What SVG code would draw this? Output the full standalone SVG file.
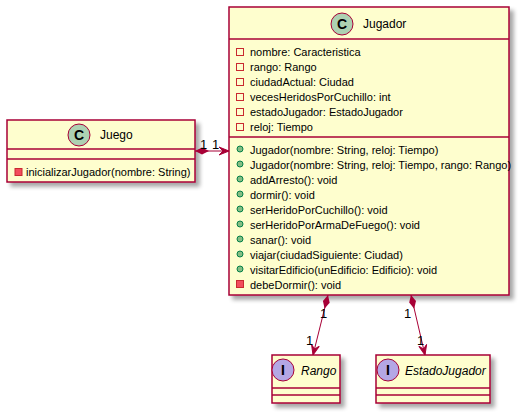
<svg xmlns="http://www.w3.org/2000/svg" width="522" height="416" viewBox="0 0 522 416">
<defs>
<filter id="sh" x="-10%" y="-10%" width="130%" height="130%">
<feGaussianBlur in="SourceAlpha" stdDeviation="2"/>
<feOffset dx="4" dy="4" result="b"/>
<feComponentTransfer><feFuncA type="linear" slope="0.35"/></feComponentTransfer>
<feMerge><feMergeNode/><feMergeNode in="SourceGraphic"/></feMerge>
</filter>
<marker id="arr" viewBox="0 0 10 10" refX="10" refY="5" markerWidth="10" markerHeight="10" markerUnits="userSpaceOnUse" orient="auto">
<path d="M0,1 L10,5 L0,9 L4,5 Z" fill="#A80036" stroke="#A80036" stroke-width="1"/>
</marker>
<marker id="dia" viewBox="0 0 14 8" refX="0" refY="4" markerWidth="14" markerHeight="8" markerUnits="userSpaceOnUse" orient="auto">
<path d="M0,4 L7,0.5 L14,4 L7,7.5 Z" fill="#A80036"/>
</marker>
</defs>
<style>
.box{fill:#FEFECE;stroke:#A80036;stroke-width:1.5}
.sep{stroke:#A80036;stroke-width:1.5}
.t{font-family:"Liberation Sans",Arial,sans-serif;font-size:11px;fill:#000}
.n{font-family:"Liberation Sans",Arial,sans-serif;font-size:12px;fill:#000}
.ni{font-family:"Liberation Sans",Arial,sans-serif;font-size:12px;font-style:italic;fill:#000}
.cc{fill:#ADD1B2;stroke:#A80036;stroke-width:1}
.ci{fill:#B4A7E5;stroke:#A80036;stroke-width:1}
.cl{font-family:"Liberation Sans",Arial,sans-serif;font-size:14px;font-weight:bold;fill:#000;text-anchor:middle}
.priv{fill:none;stroke:#C82930;stroke-width:1}
.privm{fill:#F24D5C;stroke:#C82930;stroke-width:1}
.pub{fill:#84BE84;stroke:#038048;stroke-width:1}
.ln{stroke:#A80036;stroke-width:1;fill:none}
.lb{font-family:"Liberation Sans",Arial,sans-serif;font-size:13px;fill:#000}
</style>
<g id="Juego">
<rect class="box" x="7" y="120" width="188" height="62" filter="url(#sh)"/>
<circle class="cc" cx="79" cy="135" r="11"/>
<text class="cl" x="79" y="140">C</text>
<text class="n" x="100" y="139">Juego</text>
<line class="sep" x1="7" y1="149" x2="195" y2="149"/>
<line class="sep" x1="7" y1="159" x2="195" y2="159"/>
<rect class="privm" x="15" y="168.5" width="7" height="7"/>
<text class="t" x="26" y="176">inicializarJugador(nombre: String)</text>
</g>
<g id="Jugador">
<rect class="box" x="229" y="7" width="280" height="288" filter="url(#sh)"/>
<circle class="cc" cx="342" cy="24" r="11"/>
<text class="cl" x="342" y="29">C</text>
<text class="n" x="363" y="28">Jugador</text>
<line class="sep" x1="229" y1="39" x2="509" y2="39"/>
<rect class="priv" x="236.5" y="48.5" width="7" height="7"/>
<text class="t" x="250" y="56">nombre: Caracteristica</text>
<rect class="priv" x="236.5" y="63.5" width="7" height="7"/>
<text class="t" x="250" y="71">rango: Rango</text>
<rect class="priv" x="236.5" y="78.5" width="7" height="7"/>
<text class="t" x="250" y="86">ciudadActual: Ciudad</text>
<rect class="priv" x="236.5" y="93.5" width="7" height="7"/>
<text class="t" x="250" y="101">vecesHeridosPorCuchillo: int</text>
<rect class="priv" x="236.5" y="108.5" width="7" height="7"/>
<text class="t" x="250" y="116">estadoJugador: EstadoJugador</text>
<rect class="priv" x="236.5" y="123.5" width="7" height="7"/>
<text class="t" x="250" y="131">reloj: Tiempo</text>
<line class="sep" x1="229" y1="137" x2="509" y2="137"/>
<circle class="pub" cx="240" cy="149" r="3"/>
<text class="t" x="250" y="154">Jugador(nombre: String, reloj: Tiempo)</text>
<circle class="pub" cx="240" cy="164" r="3"/>
<text class="t" x="250" y="169">Jugador(nombre: String, reloj: Tiempo, rango: Rango)</text>
<circle class="pub" cx="240" cy="179" r="3"/>
<text class="t" x="250" y="184">addArresto(): void</text>
<circle class="pub" cx="240" cy="194" r="3"/>
<text class="t" x="250" y="199">dormir(): void</text>
<circle class="pub" cx="240" cy="209" r="3"/>
<text class="t" x="250" y="214">serHeridoPorCuchillo(): void</text>
<circle class="pub" cx="240" cy="224" r="3"/>
<text class="t" x="250" y="229">serHeridoPorArmaDeFuego(): void</text>
<circle class="pub" cx="240" cy="239" r="3"/>
<text class="t" x="250" y="244">sanar(): void</text>
<circle class="pub" cx="240" cy="254" r="3"/>
<text class="t" x="250" y="259">viajar(ciudadSiguiente: Ciudad)</text>
<circle class="pub" cx="240" cy="269" r="3"/>
<text class="t" x="250" y="274">visitarEdificio(unEdificio: Edificio): void</text>
<rect class="privm" x="236.5" y="280.5" width="7" height="7"/>
<text class="t" x="250" y="289">debeDormir(): void</text>
</g>
<g id="Rango">
<rect class="box" x="272" y="355" width="68" height="48" filter="url(#sh)"/>
<circle class="ci" cx="283" cy="370" r="11"/>
<text class="cl" x="283" y="375">I</text>
<text class="ni" x="301" y="375">Rango</text>
<line class="sep" x1="272" y1="388" x2="340" y2="388"/>
<line class="sep" x1="272" y1="395" x2="340" y2="395"/>
</g>
<g id="EstadoJugador">
<rect class="box" x="376" y="355" width="114" height="48" filter="url(#sh)"/>
<circle class="ci" cx="388" cy="370" r="11"/>
<text class="cl" x="388" y="375">I</text>
<text class="ni" x="405" y="375">EstadoJugador</text>
<line class="sep" x1="376" y1="388" x2="490" y2="388"/>
<line class="sep" x1="376" y1="395" x2="490" y2="395"/>
</g>
<g id="connectors">
<path class="ln" d="M195,151 L229,151" marker-start="url(#dia)" marker-end="url(#arr)"/>
<text class="lb" x="200" y="149">1</text>
<text class="lb" x="212" y="149">1</text>
<path class="ln" d="M328,295 L313,355" marker-start="url(#dia)" marker-end="url(#arr)"/>
<text class="lb" x="320" y="318">1</text>
<text class="lb" x="306" y="345">1</text>
<path class="ln" d="M411,295 L425,355" marker-start="url(#dia)" marker-end="url(#arr)"/>
<text class="lb" x="404" y="318">1</text>
<text class="lb" x="417" y="345">1</text>
</g>
</svg>
